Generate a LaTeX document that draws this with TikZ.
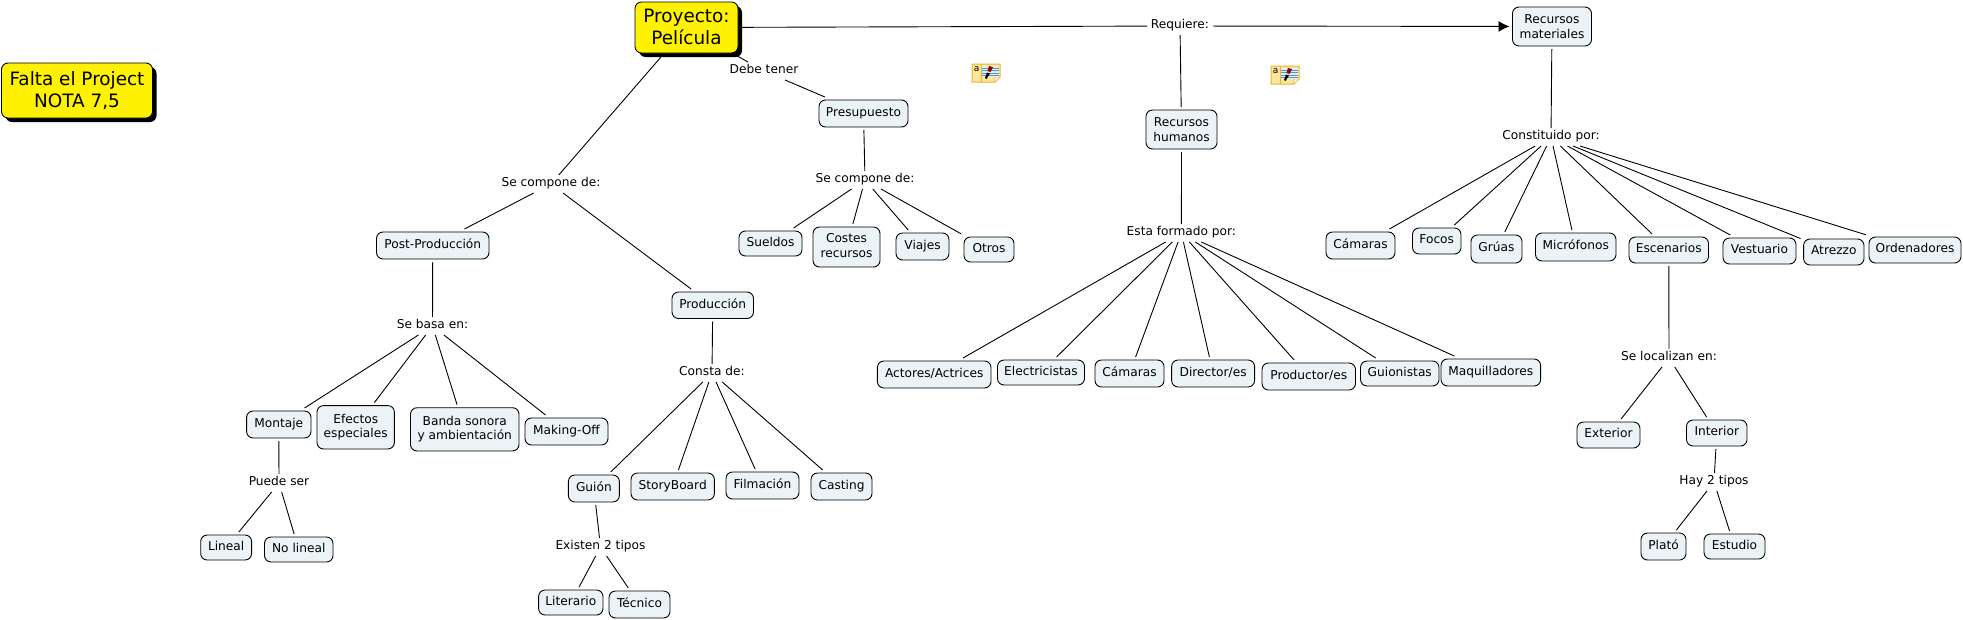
\documentclass[tikz,border=0pt]{standalone}
\usepackage{fontspec}
\setmainfont{DejaVu Sans}
\usetikzlibrary{arrows.meta,shadows}
\definecolor{boxfill}{HTML}{ECF3F6}
\definecolor{noteedge}{HTML}{E9B52E}
\definecolor{notefill}{HTML}{FCE699}
\definecolor{notepage}{HTML}{E3EEF6}
\definecolor{noteline}{HTML}{5B93CF}
\tikzset{
  concept/.style={draw=black,line width=0.9pt,fill=boxfill,rounded corners=6.5pt,inner sep=0pt,outer sep=3pt,align=center,font=\fontsize{12.2}{14.3}\selectfont},
  maincpt/.style={draw=black,line width=0.9pt,fill=yellow,rounded corners=6.5pt,inner sep=0pt,outer sep=2pt,align=center,font=\fontsize{18.4}{22}\selectfont,drop shadow={shadow xshift=4pt,shadow yshift=-4pt,opacity=1,fill=black}},
  linkl/.style={inner sep=0pt,outer sep=0pt,align=center,font=\fontsize{12.2}{14.3}\selectfont},
  conn/.style={draw=black,line width=0.9pt},
  arrowconn/.style={conn,-{Latex[length=11pt,width=11pt]}},
}
% name, x0, x1, y0, y1, text
\newcommand{\cnode}[6]{\node[concept,minimum width={#3-#2},minimum height={#5-#4}] (#1) at ({(#2+#3)/2},{(#4+#5)/2}) {\strut #6\strut};}
\newcommand{\mnode}[6]{\node[maincpt,minimum width={#3-#2},minimum height={#5-#4}] (#1) at ({(#2+#3)/2},{(#4+#5)/2}) {\rule{0pt}{19pt}#6\strut};}
% name, cx, cy, half-width, text
\newcommand{\lnode}[5]{\node[linkl,minimum width={2*#4},minimum height=18] (#1) at (#2,{#3+1}) {\strut #5\strut};}
\newcommand{\noteicon}[3]{%
  \begin{scope}[shift={(#2,#3)}]
    \draw[noteedge,line width=1pt,fill=notefill] (0,0) -- (28,0) -- (28,13) -- (23,18) -- (0,18) -- cycle;
    \draw[noteedge,line width=0.6pt,fill=white] (23,18) -- (23,13) -- (28,13) -- cycle;
    \fill[notepage] (10,2) rectangle (27,13);
    \foreach \yy in {4,6.5,9,11.5}{\draw[noteline,line width=0.7pt] (10,\yy) -- (27,\yy);}
    \draw[noteedge,line width=0.6pt] (9,0) -- (9,18);
    \fill[black] (13,14) -- (15,8.5) -- (18,9.5) -- (14.5,15) -- cycle;
    \fill[red!55!black] (15.5,7) -- (17,2) -- (21,3) -- (18.5,8) -- cycle;
    \node[inner sep=0pt,font=\fontsize{9}{9}\selectfont] (#1) at (4.5,5) {a};
  \end{scope}}
\begin{document}
\begin{tikzpicture}[x=1pt,y=-1pt]
\useasboundingbox (0,0) rectangle (1963,619);
% notes
\noteicon{notea}{972}{64}
\noteicon{noteb}{1271}{66}
% main concepts
\mnode{falta}{1.5}{152.5}{63}{118}{Falta el Project\\NOTA 7,5}
\mnode{proy}{635}{738}{2}{53}{Proyecto:\\Película}
% concepts
\cnode{post}{376.5}{489}{232}{259}{Post-Producción}
\cnode{prod}{672}{753.5}{292}{318.5}{Producción}
\cnode{presu}{819}{908}{100}{127}{Presupuesto}
\cnode{sueldos}{739}{802}{231}{256}{Sueldos}
\cnode{costes}{813}{880}{227}{267}{Costes\\recursos}
\cnode{viajes}{896}{949}{233}{260}{Viajes}
\cnode{otros}{964}{1014}{237}{262}{Otros}
\cnode{rh}{1146}{1217}{110}{149}{\rule{0pt}{13pt}Recursos\\humanos}
\cnode{rm}{1512.5}{1591.5}{7}{46}{\rule{0pt}{13pt}Recursos\\materiales}
\cnode{montaje}{246.6}{311}{411}{438}{Montaje}
\cnode{efectos}{317}{394.4}{405.6}{449}{Efectos\\especiales}
\cnode{banda}{410.5}{519}{407.7}{451}{Banda sonora\\y ambientación}
\cnode{making}{525}{608}{418}{445}{Making-Off}
\cnode{lineal}{200.7}{251.6}{535}{560}{Lineal}
\cnode{nolineal}{264.5}{333}{537}{562}{No lineal}
\cnode{guion}{568.4}{619.4}{475}{502}{Guión}
\cnode{story}{631}{714.4}{473}{500}{StoryBoard}
\cnode{film}{726}{799}{472}{499}{Filmación}
\cnode{casting}{811}{872}{473}{500}{Casting}
\cnode{literario}{538.6}{603}{590}{615}{Literario}
\cnode{tecnico}{609}{670}{591}{618}{Técnico}
\cnode{actores}{877.4}{991}{361}{388}{Actores/Actrices}
\cnode{electr}{997.5}{1084.5}{360}{385}{Electricistas}
\cnode{camh}{1095}{1164}{360}{387}{Cámaras}
\cnode{director}{1171.6}{1254.6}{360}{387}{Director/es}
\cnode{productor}{1262}{1355.5}{363}{390}{Productor/es}
\cnode{guionistas}{1360.5}{1439}{361}{386}{Guionistas}
\cnode{maquill}{1441}{1540.6}{359}{386}{Maquilladores}
\cnode{camm}{1326}{1395}{232}{259}{Cámaras}
\cnode{focos}{1412.5}{1461}{228}{254}{Focos}
\cnode{gruas}{1471}{1522}{235}{263}{Grúas}
\cnode{micro}{1535.5}{1616}{233}{261}{Micrófonos}
\cnode{escen}{1629}{1708.5}{237}{263}{Escenarios}
\cnode{vest}{1723}{1796}{238}{264}{Vestuario}
\cnode{atrezzo}{1803.6}{1864}{239}{265}{Atrezzo}
\cnode{orden}{1869}{1961}{237}{263}{Ordenadores}
\cnode{exterior}{1577}{1640}{422}{448}{Exterior}
\cnode{interior}{1686.5}{1747}{420}{446}{Interior}
\cnode{plato}{1641}{1686}{533}{560}{Plató}
\cnode{estudio}{1704}{1765}{534}{559}{Estudio}
% linking phrases
\lnode{lcomp}{551}{183}{50}{Se compone de:}
\lnode{ldebe}{764}{70}{36}{Debe tener}
\lnode{lreq}{1180}{25}{33}{Requiere:}
\lnode{lcomp2}{865}{179}{50}{Se compone de:}
\lnode{lbasa}{432.5}{325}{39}{Se basa en:}
\lnode{lpuede}{279}{482}{32}{Puede ser}
\lnode{lconsta}{712}{372}{36}{Consta de:}
\lnode{lexisten}{600.5}{546}{47}{Existen 2 tipos}
\lnode{lesta}{1181.4}{232}{58}{Esta formado por:}
\lnode{lconst}{1551}{136}{50}{Constituido por:}
\lnode{lloc}{1669}{357}{50}{Se localizan en:}
\lnode{lhay}{1714}{481}{36}{Hay 2 tipos}
% connectors
\draw[conn] (proy) -- (lcomp);
\draw[conn] (lcomp) -- (post);
\draw[conn] (lcomp) -- (prod);
\draw[conn] (proy) -- (ldebe);
\draw[conn] (ldebe) -- (presu);
\draw[conn] (proy) -- (lreq);
\draw[arrowconn] (lreq) -- (rm);
\draw[conn] (lreq) -- (rh);
\draw[conn] (presu) -- (lcomp2);
\foreach \t in {sueldos,costes,viajes,otros}{\draw[conn] (lcomp2) -- (\t);}
\draw[conn] (post) -- (lbasa);
\foreach \t in {montaje,efectos,banda,making}{\draw[conn] (lbasa) -- (\t);}
\draw[conn] (montaje) -- (lpuede);
\foreach \t in {lineal,nolineal}{\draw[conn] (lpuede) -- (\t);}
\draw[conn] (prod) -- (lconsta);
\foreach \t in {guion,story,film,casting}{\draw[conn] (lconsta) -- (\t);}
\draw[conn] (guion) -- (lexisten);
\foreach \t in {literario,tecnico}{\draw[conn] (lexisten) -- (\t);}
\draw[conn] (rh) -- (lesta);
\foreach \t in {actores,electr,camh,director,productor,guionistas,maquill}{\draw[conn] (lesta) -- (\t);}
\draw[conn] (rm) -- (lconst);
\foreach \t in {camm,focos,gruas,micro,escen,vest,atrezzo,orden}{\draw[conn] (lconst) -- (\t);}
\draw[conn] (escen) -- (lloc);
\foreach \t in {exterior,interior}{\draw[conn] (lloc) -- (\t);}
\draw[conn] (interior) -- (lhay);
\foreach \t in {plato,estudio}{\draw[conn] (lhay) -- (\t);}
\end{tikzpicture}
\end{document}
